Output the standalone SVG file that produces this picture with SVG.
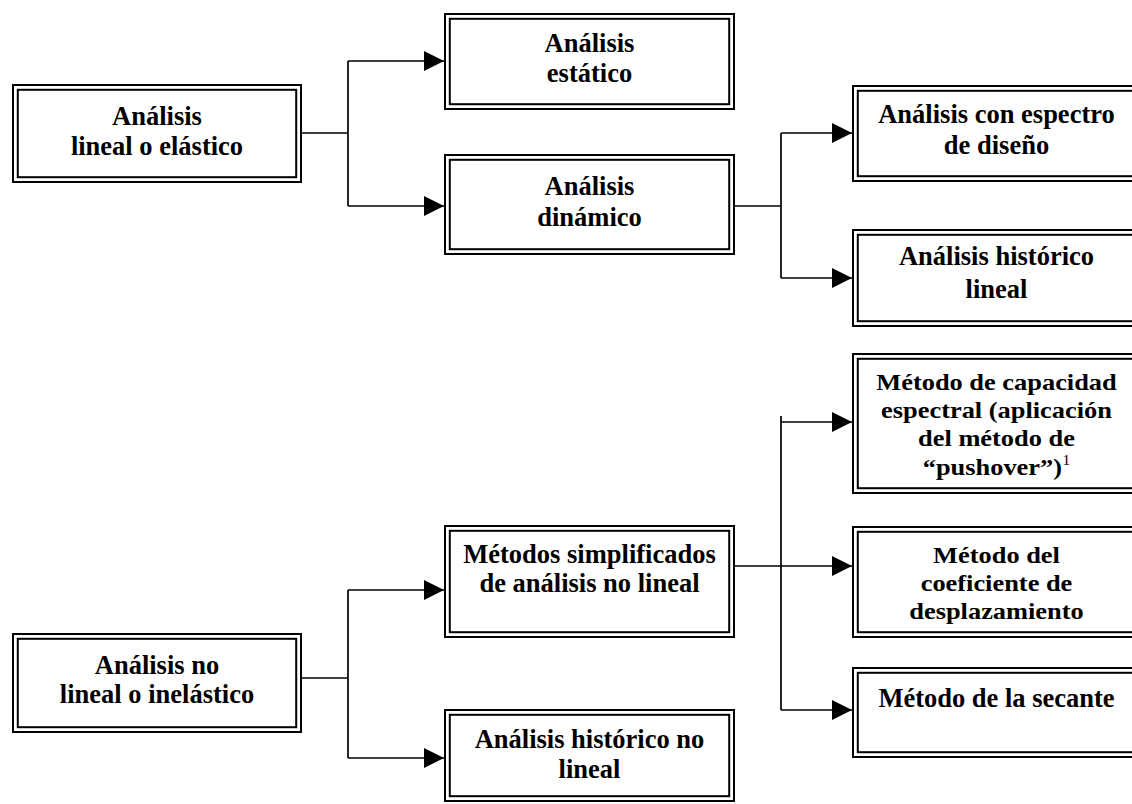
<svg xmlns="http://www.w3.org/2000/svg" width="1132" height="804" viewBox="0 0 1132 804">
<style>
.o{fill:#fff;stroke:#000;stroke-width:2}
.i{fill:none;stroke:#000;stroke-width:2}
.t{font-family:"Liberation Serif","Times New Roman",serif;font-weight:bold;font-size:26.5px;text-anchor:middle;fill:#000}
.s{font-size:24px}
.sup{font-size:14px;font-weight:normal}
.c{fill:none;stroke:#000;stroke-width:1.7}
</style>
<defs>
<marker id="ah" markerUnits="userSpaceOnUse" markerWidth="20" markerHeight="20" refX="20" refY="10" orient="auto">
<path d="M0,0 L20,10 L0,20 Z" fill="#000"/>
</marker>
</defs>
<rect width="1132" height="804" fill="#fff"/>
<g id="connectors">
<path class="c" d="M302,133 H348"/>
<path class="c" d="M348,61 V206"/>
<path class="c" d="M348,61 H444" marker-end="url(#ah)"/>
<path class="c" d="M348,206 H444" marker-end="url(#ah)"/>
<path class="c" d="M735,206 H781"/>
<path class="c" d="M781,133 V278"/>
<path class="c" d="M781,133 H852" marker-end="url(#ah)"/>
<path class="c" d="M781,278 H852" marker-end="url(#ah)"/>
<path class="c" d="M302,678 H348"/>
<path class="c" d="M348,590 V758"/>
<path class="c" d="M348,590 H444" marker-end="url(#ah)"/>
<path class="c" d="M348,758 H444" marker-end="url(#ah)"/>
<path class="c" d="M781,416 V710"/>
<path class="c" d="M781,422 H852" marker-end="url(#ah)"/>
<path class="c" d="M735,566 H852" marker-end="url(#ah)"/>
<path class="c" d="M781,710 H852" marker-end="url(#ah)"/>
</g>
<g id="n-lineal">
<rect class="o" x="13" y="85" width="288" height="97"/>
<rect class="i" x="17.8" y="89.8" width="278.4" height="87.4"/>
<text class="t" x="157" y="125">Análisis</text>
<text class="t" x="157" y="155">lineal o elástico</text>
</g>
<g id="n-estatico">
<rect class="o" x="445" y="14" width="289" height="95"/>
<rect class="i" x="449.8" y="18.8" width="279.4" height="85.4"/>
<text class="t" x="589.5" y="52">Análisis</text>
<text class="t" x="589.5" y="82">estático</text>
</g>
<g id="n-dinamico">
<rect class="o" x="445" y="155" width="289" height="99"/>
<rect class="i" x="449.8" y="159.8" width="279.4" height="89.4"/>
<text class="t" x="589.5" y="195">Análisis</text>
<text class="t" x="589.5" y="226">dinámico</text>
</g>
<g id="n-espectro">
<rect class="o" x="853" y="86" width="287" height="95"/>
<rect class="i" x="857.8" y="90.8" width="277.4" height="85.4"/>
<text class="t" x="996.5" y="123">Análisis con espectro</text>
<text class="t" x="996.5" y="154">de diseño</text>
</g>
<g id="n-historico-lineal">
<rect class="o" x="853" y="230" width="287" height="96"/>
<rect class="i" x="857.8" y="234.8" width="277.4" height="86.4"/>
<text class="t" x="996.5" y="265">Análisis histórico</text>
<text class="t" x="996.5" y="298">lineal</text>
</g>
<g id="n-capacidad">
<rect class="o" x="853" y="354" width="287" height="139"/>
<rect class="i" x="857.8" y="358.8" width="277.4" height="129.4"/>
<text class="t s" transform="translate(996.5 390) scale(1.1 1)">Método de capacidad</text>
<text class="t s" transform="translate(996.5 418) scale(1.1 1)">espectral (aplicación</text>
<text class="t s" transform="translate(996.5 446) scale(1.1 1)">del método de</text>
<text class="t s" transform="translate(996.5 475) scale(1.1 1)">“pushover”)<tspan class="sup" dx="0.5" dy="-10">1</tspan></text>
</g>
<g id="n-coeficiente">
<rect class="o" x="853" y="527" width="287" height="110"/>
<rect class="i" x="857.8" y="531.8" width="277.4" height="100.4"/>
<text class="t s" transform="translate(996.5 563) scale(1.1 1)">Método del</text>
<text class="t s" transform="translate(996.5 591) scale(1.1 1)">coeficiente de</text>
<text class="t s" transform="translate(996.5 619) scale(1.1 1)">desplazamiento</text>
</g>
<g id="n-secante">
<rect class="o" x="853" y="668" width="287" height="89"/>
<rect class="i" x="857.8" y="672.8" width="277.4" height="79.4"/>
<text class="t" x="996.5" y="707">Método de la secante</text>
</g>
<g id="n-no-lineal">
<rect class="o" x="13" y="634" width="288" height="98"/>
<rect class="i" x="17.8" y="638.8" width="278.4" height="88.4"/>
<text class="t" x="157" y="674">Análisis no</text>
<text class="t" x="157" y="703">lineal o inelástico</text>
</g>
<g id="n-simplificados">
<rect class="o" x="445" y="526" width="289" height="111"/>
<rect class="i" x="449.8" y="530.8" width="279.4" height="101.4"/>
<text class="t" x="589.5" y="563">Métodos simplificados</text>
<text class="t" x="589.5" y="592">de análisis no lineal</text>
</g>
<g id="n-historico-no-lineal">
<rect class="o" x="445" y="710" width="289" height="91"/>
<rect class="i" x="449.8" y="714.8" width="279.4" height="81.4"/>
<text class="t" x="589.5" y="748">Análisis histórico no</text>
<text class="t" x="589.5" y="778">lineal</text>
</g>
</svg>
